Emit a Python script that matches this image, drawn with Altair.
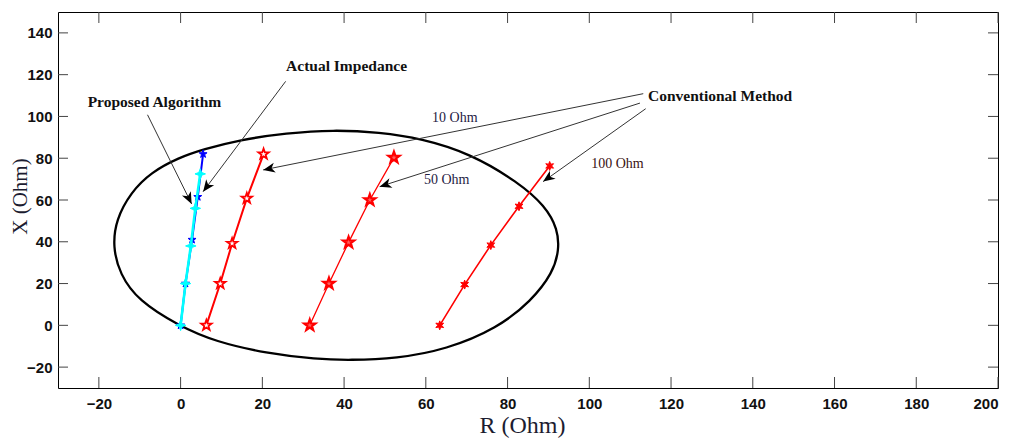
import math
import altair as alt
import pandas as pd

# ---------------- data ----------------
actual_r = [0.0, 1.2, 2.8, 4.2, 5.5]
actual_x = [0.0, 20.0, 41.0, 61.5, 82.0]
proposed_r = [0.0, 1.2, 2.5, 3.6, 4.8]
proposed_x = [0.0, 20.0, 38.0, 56.0, 72.5]
conv10_r = [6.3, 9.7, 12.6, 16.2, 20.3]
conv10_x = [0.0, 20.0, 39.2, 60.8, 82.0]
conv50_r = [31.6, 36.3, 41.1, 46.3, 52.2]
conv50_x = [0.0, 20.0, 39.7, 60.0, 80.3]
conv100_r = [63.4, 69.5, 75.9, 82.8, 90.3]
conv100_x = [0.0, 19.5, 38.4, 57.0, 76.3]

zone_r = [-16.6, -15.8, -12.2, -7.2, -0.4, 5.5, 14.4, 25.9, 37.3, 48.7, 58.8, 71.0,
          82.6, 89.2, 92.3, 92.6, 91.1, 85.8, 77.5, 65.0, 52.8, 41.4, 33.2, 21.0,
          8.5, -0.3, -10.4, -14.9]
zone_x = [37.6, 50.6, 63.6, 73.3, 80.3, 84.2, 88.8, 92.0, 93.6, 92.4, 89.5, 82.2,
          68.5, 57.2, 46.0, 36.0, 25.2, 11.6, -1.4, -11.6, -15.9, -16.7, -16.2, -13.4,
          -7.8, -0.4, 11.8, 24.6]

x_ticks = [-20, 0, 20, 40, 60, 80, 100, 120, 140, 160, 180, 200]
y_ticks = [-20, 0, 20, 40, 60, 80, 100, 120, 140]
x_domain = [-30, 200]
y_domain = [-30, 150]

bold_labels = ["Proposed Algorithm", "Actual Impedance", "Conventional Method"]
bold_r = [-6.4, 40.6, 132.0]
bold_x = [107.0, 124.3, 109.6]
ohm_labels = ["10 Ohm", "50 Ohm", "100 Ohm"]
ohm_r = [67.1, 65.1, 106.9]
ohm_x = [99.2, 69.6, 77.1]
ohm_colors = ["#1f2244", "#1f2244", "#3a1212"]

arrow_r1 = [-8.1, 25.7, 113.2, 112.4, 113.8]
arrow_x1 = [100.8, 116.8, 110.9, 106.4, 103.7]
arrow_r2 = [2.7, 5.5, 20.2, 48.7, 88.7]
arrow_x2 = [58.1, 64.0, 74.4, 66.4, 68.8]

# ---------------- layout ----------------
W, H = 940, 376
SX = W / (x_domain[1] - x_domain[0])
SY = H / (y_domain[1] - y_domain[0])

LABEL_FONT = "Liberation Sans, Arial, sans-serif"
SERIF = "Liberation Serif, DejaVu Serif, serif"


def star_path(n, inner):
    pts = []
    for k in range(2 * n):
        a = math.radians(-90 + 180.0 / n * k)
        r = 1.0 if k % 2 == 0 else inner
        pts.append(f"{r * math.cos(a):.3f},{r * math.sin(a):.3f}")
    return "M" + " L".join(pts) + " Z"


PENTA = star_path(5, 0.40)
HEXA = star_path(6, 0.45)
QUAD = star_path(4, 0.38)
ARROW = "M0,0 L-1,-0.42 L-0.72,0 L-1,0.42 Z"


def X(field="R"):
    return alt.X(f"{field}:Q", scale=alt.Scale(domain=x_domain, nice=False, zero=False),
                 axis=alt.Axis(values=x_ticks, title="R (Ohm)", titleX=464, titleY=44,
                               titleBaseline="alphabetic", titleAlign="center"))


def Y(field="X"):
    return alt.Y(f"{field}:Q", scale=alt.Scale(domain=y_domain, nice=False, zero=False),
                 axis=alt.Axis(values=y_ticks, title="X (Ohm)", titleX=-32, titleY=184,
                               titleAngle=270, titleBaseline="alphabetic", titleAlign="center"))


def series(r, x):
    return pd.DataFrame({"R": r, "X": x, "i": list(range(len(r)))})


zone_df = series(zone_r, zone_x)
zone = alt.Chart(zone_df).mark_line(color="black", strokeWidth=2.3,
                                     interpolate="basis-closed").encode(
    x=X(), y=Y(), order="i:Q")


def line_layer(r, x, color, width, shape, size, filled, stroke_w, fill="white"):
    df = series(r, x)
    ln = alt.Chart(df).mark_line(color=color, strokeWidth=width).encode(x=X(), y=Y(), order="i:Q")
    if filled:
        pt = alt.Chart(df).mark_point(shape=shape, size=size, filled=True, color=color,
                                      opacity=1, stroke=color, strokeWidth=stroke_w).encode(x=X(), y=Y())
    else:
        pt = alt.Chart(df).mark_point(shape=shape, size=size, filled=False, stroke=color,
                                      fill=fill, fillOpacity=1, opacity=1,
                                      strokeWidth=stroke_w).encode(x=X(), y=Y())
    return ln + pt


actual = line_layer(actual_r, actual_x, "#0000ff", 2.0, PENTA, 70, True, 1)
proposed = line_layer(proposed_r, proposed_x, "#00ffff", 2.6, QUAD, 110, True, 1)
c10 = line_layer(conv10_r, conv10_x, "#ff0000", 2.0, PENTA, 120, False, 1.8)
c50 = line_layer(conv50_r, conv50_x, "#ff0000", 1.3, PENTA, 140, False, 2.2, fill="#ff6060")
c100 = line_layer(conv100_r, conv100_x, "#ff0000", 1.6, HEXA, 80, True, 1)

# ticks inside the frame (MATLAB style)
tx = pd.DataFrame({"R": x_ticks})
ty = pd.DataFrame({"X": y_ticks})
tick_color = "#444444"
ticks = [
    alt.Chart(tx).mark_rule(color=tick_color).encode(x=X(), y=alt.value(H), y2=alt.value(H - 11)),
    alt.Chart(tx).mark_rule(color=tick_color).encode(x=X(), y=alt.value(0), y2=alt.value(11)),
    alt.Chart(ty).mark_rule(color=tick_color).encode(y=Y(), x=alt.value(0), x2=alt.value(10)),
    alt.Chart(ty).mark_rule(color=tick_color).encode(y=Y(), x=alt.value(W), x2=alt.value(W - 10)),
]

# arrows
ang = []
for a, b, c, d in zip(arrow_r1, arrow_x1, arrow_r2, arrow_x2):
    dx = (c - a) * SX
    dy = -(d - b) * SY
    ang.append(math.degrees(math.atan2(dy, dx)) % 360)
arr_df = pd.DataFrame({"R": arrow_r1, "X": arrow_x1, "R2": arrow_r2, "X2": arrow_x2, "ang": ang})
arrow_lines = alt.Chart(arr_df).mark_rule(color="#333333", strokeWidth=1).encode(
    x=X(), y=Y(), x2="R2:Q", y2="X2:Q")
arrow_heads = alt.Chart(arr_df).mark_point(shape=ARROW, size=560, filled=True, color="black",
                                           opacity=1).encode(
    x=X("R2"), y=Y("X2"), angle=alt.Angle("ang:Q", scale=None))

bold_df = pd.DataFrame({"R": bold_r, "X": bold_x, "t": bold_labels})
bold_text = alt.Chart(bold_df).mark_text(font=SERIF, fontSize=15.5, fontWeight="bold",
                                         color="#111111", align="center", baseline="middle").encode(
    x=X(), y=Y(), text="t:N")

ohm_df = pd.DataFrame({"R": ohm_r, "X": ohm_x, "t": ohm_labels, "c": ohm_colors})
ohm_text = alt.Chart(ohm_df).mark_text(font=SERIF, fontSize=14, align="center",
                                       baseline="middle").encode(
    x=X(), y=Y(), text="t:N", color=alt.Color("c:N", scale=None))

chart = alt.layer(
    zone, *ticks, actual, proposed, c10, c50, c100,
    arrow_lines, arrow_heads, bold_text, ohm_text
).properties(
    width=W, height=H,
    autosize=alt.AutoSizeParams(type="none"),
    padding={"left": 50, "top": 4, "right": 6, "bottom": 50},
).configure_view(
    stroke="black", strokeWidth=1
).configure_axis(
    domain=False, ticks=False, grid=False,
    labelFont=LABEL_FONT, labelFontSize=15, labelFontWeight="bold", labelColor="#111111",
    titleFont=SERIF, titleFontWeight="normal", titleColor="#1c1c30",
).configure_axisX(
    labelPadding=8, titleFontSize=24
).configure_axisY(
    labelPadding=6, titleFontSize=21
)

chart.save("out.html", embed_options={"renderer": "svg", "actions": False})
